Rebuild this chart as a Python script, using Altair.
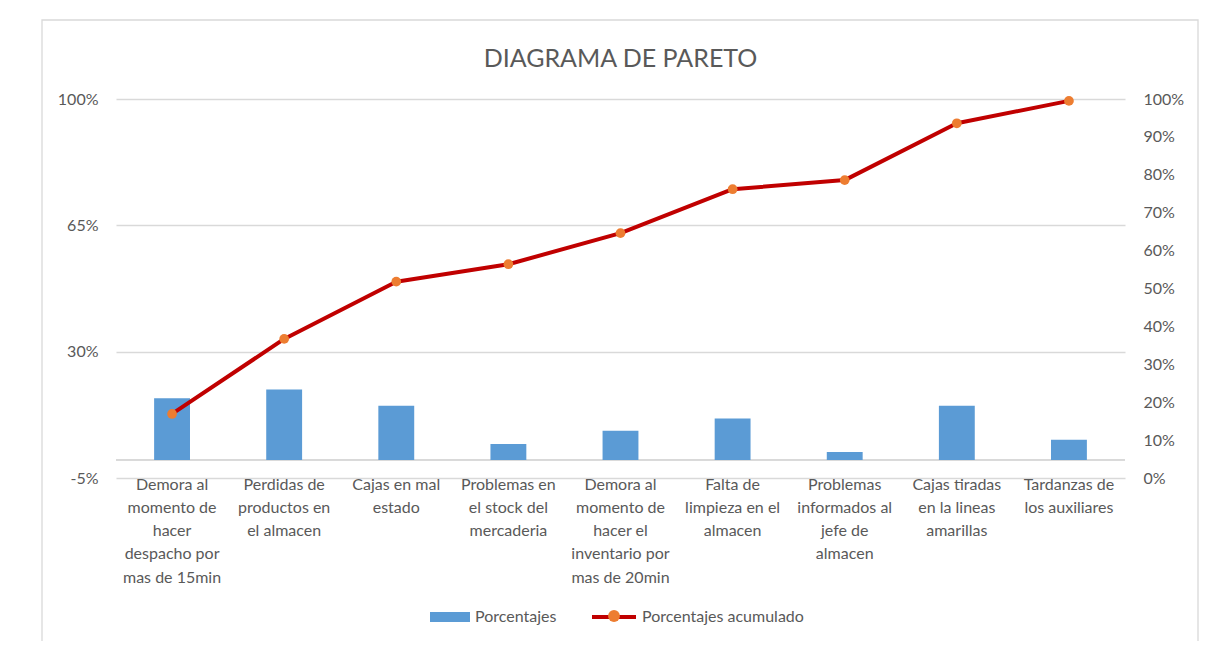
import altair as alt
import pandas as pd

categories = [
    "Demora al momento de hacer despacho por mas de 15min",
    "Perdidas de productos en el almacen",
    "Cajas en mal estado",
    "Problemas en el stock del mercaderia",
    "Demora al momento de hacer el inventario por mas de 20min",
    "Falta de limpieza en el almacen",
    "Problemas informados al jefe de almacen",
    "Cajas tiradas en la lineas amarillas",
    "Tardanzas de los auxiliares",
]
label_lines = [
    ["Demora al", "momento de", "hacer", "despacho por", "mas de 15min"],
    ["Perdidas de", "productos en", "el almacen"],
    ["Cajas en mal", "estado"],
    ["Problemas en", "el stock del", "mercaderia"],
    ["Demora al", "momento de", "hacer el", "inventario por", "mas de 20min"],
    ["Falta de", "limpieza en el", "almacen"],
    ["Problemas", "informados al", "jefe de", "almacen"],
    ["Cajas tiradas", "en la lineas", "amarillas"],
    ["Tardanzas de", "los auxiliares"],
]
porcentajes = [0.171, 0.195, 0.150, 0.044, 0.081, 0.115, 0.022, 0.150, 0.056]
acumulado = [0.169, 0.367, 0.518, 0.564, 0.646, 0.762, 0.786, 0.936, 0.995]

left_ticks = [-0.05, 0.30, 0.65, 1.00]
right_ticks = [i / 10 for i in range(11)]

series_bar = "Porcentajes"
series_line = "Porcentajes acumulado"
series_marker = "marcador"

BLUE = "#5B9BD5"
RED = "#C00000"
ORANGE = "#ED7D31"
GRID = "#D9D9D9"
TEXT = "#595959"
FONT = "Lato"

df = pd.DataFrame({
    "categoria": categories,
    "label": ["\n".join(l) for l in label_lines],
    "porcentajes": porcentajes,
    "acumulado": acumulado,
    "s1": series_bar,
    "s2": series_line,
    "s3": series_marker,
})

base = alt.Chart(df)

X = alt.X(
    "label:N",
    sort=None,
    scale=alt.Scale(paddingInner=0.68, paddingOuter=0.34),
    axis=alt.Axis(
        title=None,
        labelAngle=0,
        labelExpr="split(datum.label, '\\n')",
        labelLineHeight=23.3,
        labelPadding=-2,
        labelLimit=0,
        labelOverlap=False,
        ticks=False,
        tickSize=0,
        domain=False,
        grid=False,
    ),
)

frame = alt.Chart(pd.DataFrame({"f": [0]})).mark_rect(
    filled=False, stroke=GRID, strokeWidth=1.3
).encode(
    x=alt.value(-74), x2=alt.value(1082), y=alt.value(-79), y2=alt.value(548)
)

Y_left = alt.Y(
    "porcentajes:Q",
    scale=alt.Scale(domain=[-0.05, 1.0], nice=False, zero=False),
    axis=alt.Axis(
        orient="left",
        title=None,
        values=left_ticks,
        labelExpr="(datum.value < 0 ? '-' : '') + format(abs(datum.value), '.0%')",
        grid=True,
        gridColor=GRID,
        gridWidth=1.3,
        domain=False,
        ticks=False,
        labelPadding=18,
    ),
)

zero_rule = base.mark_rule(color=GRID, strokeWidth=1.3).encode(y=alt.datum(0))

bars = base.mark_bar().encode(
    x=X,
    y=Y_left,
    y2=alt.datum(0),
    fill=alt.Fill(
        "s1:N",
        scale=alt.Scale(domain=[series_bar], range=[BLUE]),
        legend=alt.Legend(
            title=None,
            orient="none",
            legendX=314,
            legendY=498,
            symbolType="M-1,-0.25H1V0.25H-1Z",
            symbolSize=1600,
            symbolOpacity=1,
            symbolStrokeWidth=0,
            labelOffset=5,
            labelLimit=0,
        ),
    ),
)

Y_right = alt.Y(
    "acumulado:Q",
    scale=alt.Scale(domain=[0, 1], nice=False),
    axis=alt.Axis(
        orient="right",
        title=None,
        values=right_ticks,
        format=".0%",
        grid=False,
        domain=False,
        ticks=False,
        labelPadding=18,
    ),
)

line = base.mark_line(strokeWidth=4, strokeJoin="round").encode(
    x=X,
    y=Y_right,
    stroke=alt.Stroke(
        "s2:N",
        scale=alt.Scale(domain=[series_line], range=[RED]),
        legend=alt.Legend(
            title=None,
            orient="none",
            legendX=474,
            legendY=494,
            symbolType="stroke",
            symbolSize=1936,
            symbolStrokeWidth=4,
            labelOffset=4,
            labelLimit=0,
        ),
    ),
)

points = base.mark_point(filled=True, size=95, opacity=1).encode(
    x=X,
    y=Y_right,
    color=alt.Color(
        "s3:N",
        scale=alt.Scale(domain=[series_marker], range=[ORANGE]),
        legend=alt.Legend(
            title=None,
            orient="none",
            legendX=490,
            legendY=509,
            symbolType="circle",
            symbolSize=140,
            symbolOpacity=1,
            symbolStrokeWidth=0,
            labelExpr="''",
        ),
    ),
)

left = alt.layer(frame, zero_rule, bars)
right = alt.layer(line, points)

chart = alt.layer(left, right).resolve_scale(y="independent").properties(
    width=1009,
    height=379,
    autosize=alt.AutoSizeParams(type="none"),
    padding={"left": 108, "top": 91, "right": 87, "bottom": 163},
    background="white",
    title=alt.TitleParams(
        "DIAGRAMA DE PARETO",
        font=FONT,
        fontSize=25,
        fontWeight="normal",
        color=TEXT,
        anchor="middle",
        offset=-53,
    ),
).configure_axis(
    labelFont=FONT, labelFontSize=16, labelColor=TEXT
).configure_legend(
    labelFont=FONT, labelFontSize=16, labelColor=TEXT
).configure_view(stroke=None)

chart.save("out.html", embed_options={"renderer": "svg", "actions": False})
